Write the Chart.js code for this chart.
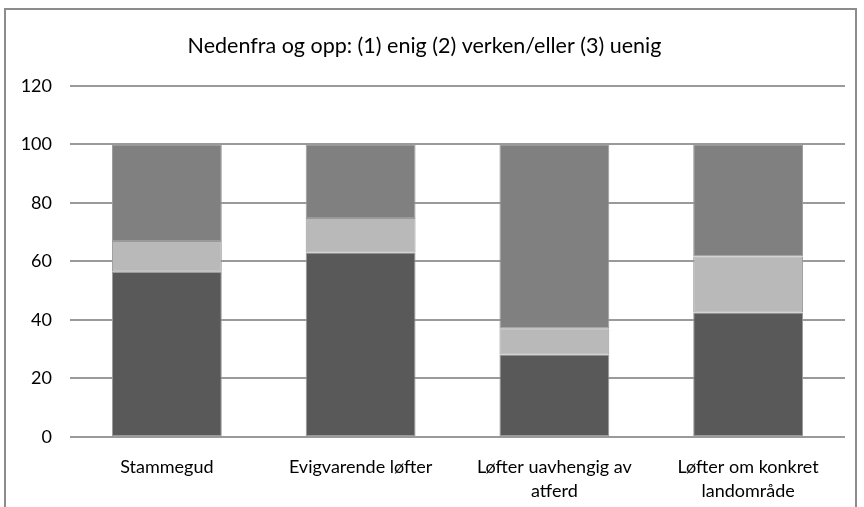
<!DOCTYPE html>
<html>
<head>
<meta charset="utf-8">
<script src="https://cdn.jsdelivr.net/npm/chart.js@4/dist/chart.umd.min.js"></script>
<style>
  html, body { margin: 0; padding: 0; background: #fff; }
  #wrap { position: relative; width: 864px; height: 507px; overflow: hidden; }
  #frame { position: absolute; left: 4px; top: 8px; width: 849px; height: 600px; border: 2px solid #8c8c8c; pointer-events: none; }
</style>
</head>
<body>
<div id="wrap">
  <canvas id="chart" width="864" height="507"></canvas>
  <div id="frame"></div>
</div>
<script>
const categories = [
  'Stammegud',
  'Evigvarende løfter',
  ['Løfter uavhengig av', 'atferd'],
  ['Løfter om konkret', 'landområde'],
];
const enig = [56.5, 63, 28.2, 42.5];
const verkenEller = [10.5, 11.8, 9.0, 19.2];
const uenig = [33, 25.2, 62.8, 38.3];

const title = 'Nedenfra og opp: (1) enig (2) verken/eller (3) uenig';
const fontFamily = 'Lato, "Open Sans", sans-serif';

// same look for all three stacks
const barStyle = {
  borderColor: '#9a9a9a',
  borderWidth: 1,
  borderSkipped: false,
  barPercentage: 0.567,
  categoryPercentage: 1,
};

new Chart(document.getElementById('chart'), {
  type: 'bar',
  data: {
    labels: categories,
    datasets: [
      { label: '(1) enig', data: enig, backgroundColor: '#595959', ...barStyle },
      { label: '(2) verken/eller', data: verkenEller, backgroundColor: '#b9b9b9', ...barStyle },
      { label: '(3) uenig', data: uenig, backgroundColor: '#808080', ...barStyle },
    ],
  },
  options: {
    responsive: false,
    animation: false,
    layout: { padding: { left: 4, right: 19, top: 0, bottom: 0 } },
    plugins: {
      legend: { display: false },
      tooltip: { enabled: false },
      title: {
        display: true,
        text: title,
        color: '#000',
        font: { family: fontFamily, size: 21.5, weight: 'normal', lineHeight: 1.2 },
        padding: { top: 33, bottom: 27 },
      },
    },
    scales: {
      x: {
        stacked: true,
        afterFit: (scale) => { scale.height = 70; },
        grid: { display: false },
        border: { display: false },
        ticks: {
          color: '#000',
          font: { family: fontFamily, size: 18, lineHeight: 1.33 },
          padding: 10,
          maxRotation: 0,
          autoSkip: false,
        },
      },
      y: {
        stacked: true,
        min: 0,
        max: 120,
        afterFit: (scale) => { scale.width = 66; },
        grid: { color: '#9a9a9a', lineWidth: 2, drawTicks: false },
        border: { display: false },
        ticks: {
          stepSize: 20,
          color: '#000',
          font: { family: fontFamily, size: 18 },
          padding: 18,
        },
      },
    },
  },
});
</script>
</body>
</html>
